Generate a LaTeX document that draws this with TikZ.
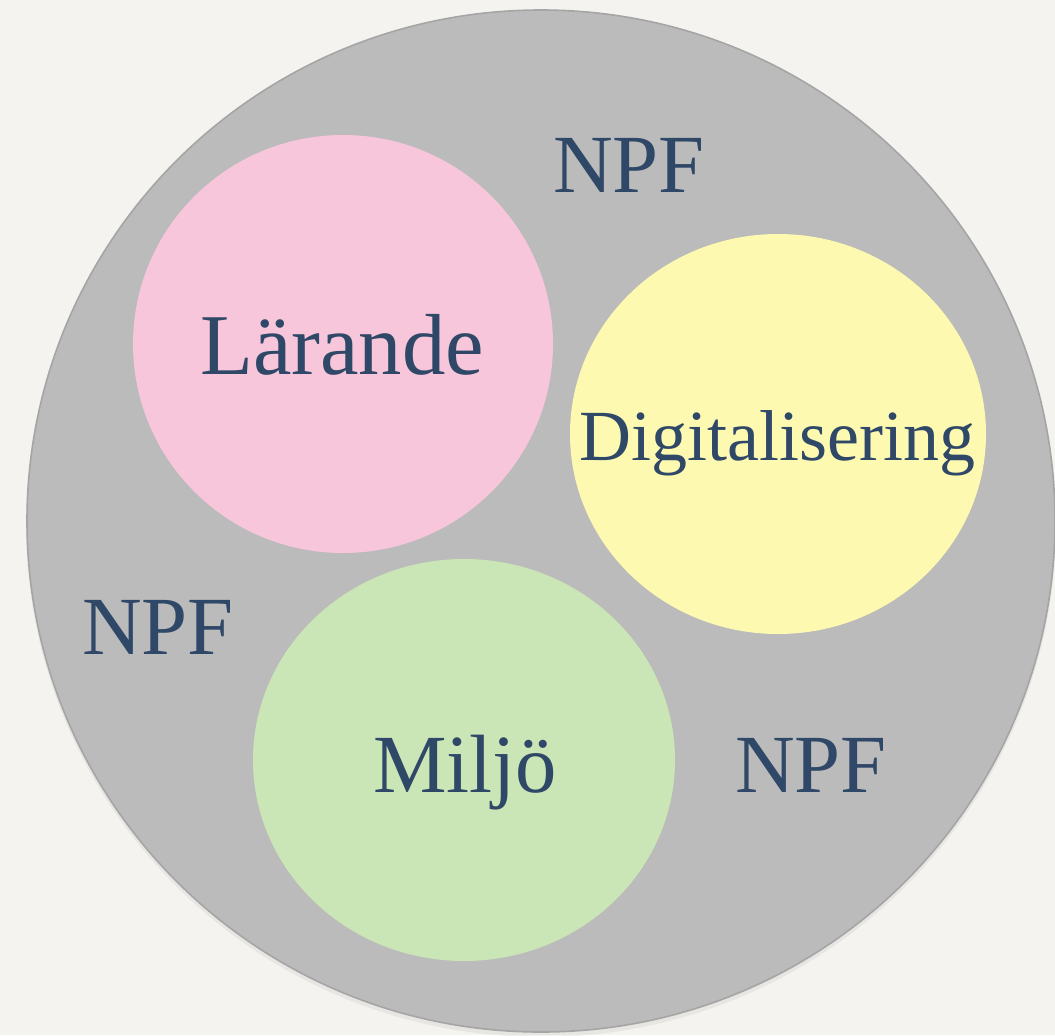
\documentclass[tikz,border=0pt]{standalone}
\usepackage{fontspec}
\setmainfont{Liberation Serif}
\usepackage{tikz}

\begin{document}
\begin{tikzpicture}[x=0.75pt,y=0.75pt,yscale=-1,xscale=1]
%set diagram left start at 0, and has height of 1035
\useasboundingbox (0,0) rectangle (1055,1035);
\tikzset{
  label text/.style={color={rgb, 255:red, 47; green, 72; blue, 104 }, anchor=base, inner sep=0pt, font=\fontsize{62}{64}\selectfont},
  wide text/.style={label text, font=\fontsize{65}{67}\selectfont},
  small text/.style={label text, font=\fontsize{54}{56}\selectfont}
}

%Shape: Rectangle [background]
\fill [color={rgb, 255:red, 245; green, 243; blue, 239 }] (0,0) rectangle (1055,1035);
%Shape: Circle [shadow]
\fill [color={rgb, 255:red, 120; green, 120; blue, 120 }, fill opacity=0.10] (541,524) ellipse (515 and 513);
%Shape: Circle [outer]
\draw [color={rgb, 255:red, 165; green, 165; blue, 165 }, line width=1.2, fill={rgb, 255:red, 187; green, 187; blue, 187 }] (541,521) ellipse (514 and 511);
%Shape: Circle [pink]
\fill [color={rgb, 255:red, 247; green, 198; blue, 218 }] (343,344) ellipse (210 and 209);
%Shape: Ellipse [yellow]
\fill [color={rgb, 255:red, 253; green, 249; blue, 176 }] (778,434) ellipse (208 and 200);
%Shape: Ellipse [green]
\fill [color={rgb, 255:red, 203; green, 230; blue, 182 }] (464,760) ellipse (211 and 201);

% Text Node
\node (npfTop) [label text] at (629,192) {NPF};
% Text Node
\node (npfLeft) [label text] at (158,654) {NPF};
% Text Node
\node (npfRight) [label text] at (811,792) {NPF};
% Text Node
\node (larande) [wide text] at (342,374) {Lärande};
% Text Node
\node (digital) [small text] at (777,460) {Digitalisering};
% Text Node
\node (miljo) [label text] at (465,792) {Miljö};

\end{tikzpicture}
\end{document}
